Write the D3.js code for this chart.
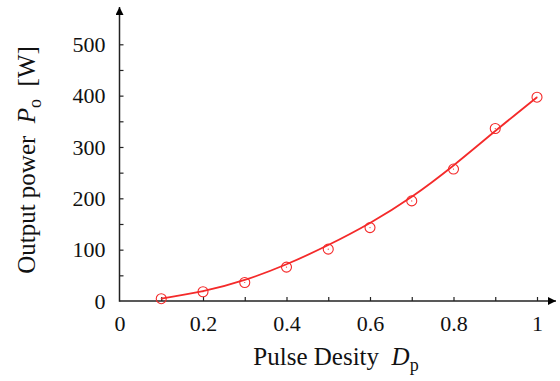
<!DOCTYPE html>
<html>
<head>
<meta charset="utf-8">
<script src="https://cdn.jsdelivr.net/npm/d3@7"></script>
<style>
  body { margin: 0; background: #fff; }
  text { font-family: "Liberation Serif", "Times New Roman", serif; fill: #111; }
</style>
</head>
<body>
<script>
// measured points
var duty = [0.1, 0.2, 0.3, 0.4, 0.5, 0.6, 0.7, 0.8, 0.9, 1.0];
var power = [4.5, 18, 36, 66, 101, 143, 195, 257, 336, 397];
// fitted curve
var fitPower = [4.5, 19, 41, 71.5, 109, 152, 203, 264, 331, 397];

var xTicks = [0.1, 0.2, 0.3, 0.4, 0.5, 0.6, 0.7, 0.8, 0.9, 1.0];
var xLabels = [0, 0.2, 0.4, 0.6, 0.8, 1];
var yTicks = [50, 100, 150, 200, 250, 300, 350, 400, 450, 500];
var yLabels = [0, 100, 200, 300, 400, 500];

var width = 560, height = 381;

var svg = d3.select("body").append("svg")
    .attr("width", width)
    .attr("height", height);

var x = d3.scaleLinear().domain([0, 1]).range([119.5, 537]);
var y = d3.scaleLinear().domain([0, 500]).range([301, 44.3]);

var axisColor = "#222";

svg.append("defs").append("marker")
    .attr("id", "arrow")
    .attr("viewBox", "0 0 10 10")
    .attr("refX", 10).attr("refY", 5)
    .attr("markerWidth", 10).attr("markerHeight", 8)
    .attr("markerUnits", "userSpaceOnUse")
    .attr("orient", "auto")
  .append("path")
    .attr("d", "M0,0 L10,5 L0,10 Z")
    .attr("fill", "#000");

// tick marks (inward)
svg.append("g")
    .attr("transform", "translate(0," + y(0) + ")")
    .call(d3.axisBottom(x).tickValues(xTicks).tickSizeInner(-4).tickSizeOuter(0).tickFormat(""))
    .call(function(g) { g.select(".domain").remove(); })
    .selectAll("line").attr("stroke", axisColor).attr("stroke-width", 1.2);

svg.append("g")
    .attr("transform", "translate(" + x(0) + ",0)")
    .call(d3.axisLeft(y).tickValues(yTicks).tickSizeInner(-4).tickSizeOuter(0).tickFormat(""))
    .call(function(g) { g.select(".domain").remove(); })
    .selectAll("line").attr("stroke", axisColor).attr("stroke-width", 1.2);

// tick labels
var xl = svg.append("g")
    .attr("transform", "translate(0," + y(0) + ")")
    .call(d3.axisBottom(x).tickValues(xLabels).tickSize(0).tickPadding(14)
      .tickFormat(function(d) { return (d === 0 || d === 1) ? String(d) : d.toFixed(1); }));
xl.select(".domain").remove();
xl.selectAll("text").attr("font-size", 22).attr("font-family", "Liberation Serif").attr("fill", "#111");

var yl = svg.append("g")
    .attr("transform", "translate(" + x(0) + ",0)")
    .call(d3.axisLeft(y).tickValues(yLabels).tickSize(0).tickPadding(14));
yl.select(".domain").remove();
yl.selectAll("text").attr("font-size", 22).attr("font-family", "Liberation Serif").attr("fill", "#111");

// axis lines with arrows
svg.append("line")
    .attr("x1", x(0)).attr("y1", y(0))
    .attr("x2", 556).attr("y2", y(0))
    .attr("stroke", axisColor).attr("stroke-width", 1.5)
    .attr("marker-end", "url(#arrow)");

svg.append("line")
    .attr("x1", x(0)).attr("y1", y(0) + 0.7)
    .attr("x2", x(0)).attr("y2", 7)
    .attr("stroke", axisColor).attr("stroke-width", 1.5)
    .attr("marker-end", "url(#arrow)");

// fitted curve
var fitData = duty.map(function(d, i) { return [d, fitPower[i]]; });
var line = d3.line()
    .x(function(d) { return x(d[0]); })
    .y(function(d) { return y(d[1]); })
    .curve(d3.curveNatural);

svg.append("path")
    .datum(fitData)
    .attr("d", line)
    .attr("fill", "none")
    .attr("stroke", "#f42a2a")
    .attr("stroke-width", 1.8);

// markers
var pts = svg.append("g").selectAll("g")
    .data(duty.map(function(d, i) { return [d, power[i]]; }))
  .enter().append("g")
    .attr("transform", function(d) { return "translate(" + x(d[0]) + "," + y(d[1]) + ")"; });

pts.append("circle")
    .attr("r", 5)
    .attr("fill", "none")
    .attr("stroke", "#f42a2a")
    .attr("stroke-width", 1.1);

pts.append("circle")
    .attr("r", 0.6)
    .attr("fill", "#f42a2a");

// axis titles
var xt = svg.append("text")
    .attr("x", 336).attr("y", 365)
    .attr("text-anchor", "middle")
    .attr("font-size", 25)
    .style("white-space", "pre");
xt.append("tspan").text("Pulse Desity  ");
xt.append("tspan").attr("font-style", "italic").text("D");
xt.append("tspan").attr("font-size", 18).attr("dy", 6).text("p");

var yt = svg.append("text")
    .attr("transform", "translate(35,160) rotate(-90)")
    .attr("text-anchor", "middle")
    .attr("font-size", 25)
    .style("white-space", "pre");
yt.append("tspan").text("Output power  ");
yt.append("tspan").attr("font-style", "italic").text("P");
yt.append("tspan").attr("font-size", 18).attr("dy", 6).text("o");
yt.append("tspan").attr("dy", -6).text("  [W]");
</script>
</body>
</html>
